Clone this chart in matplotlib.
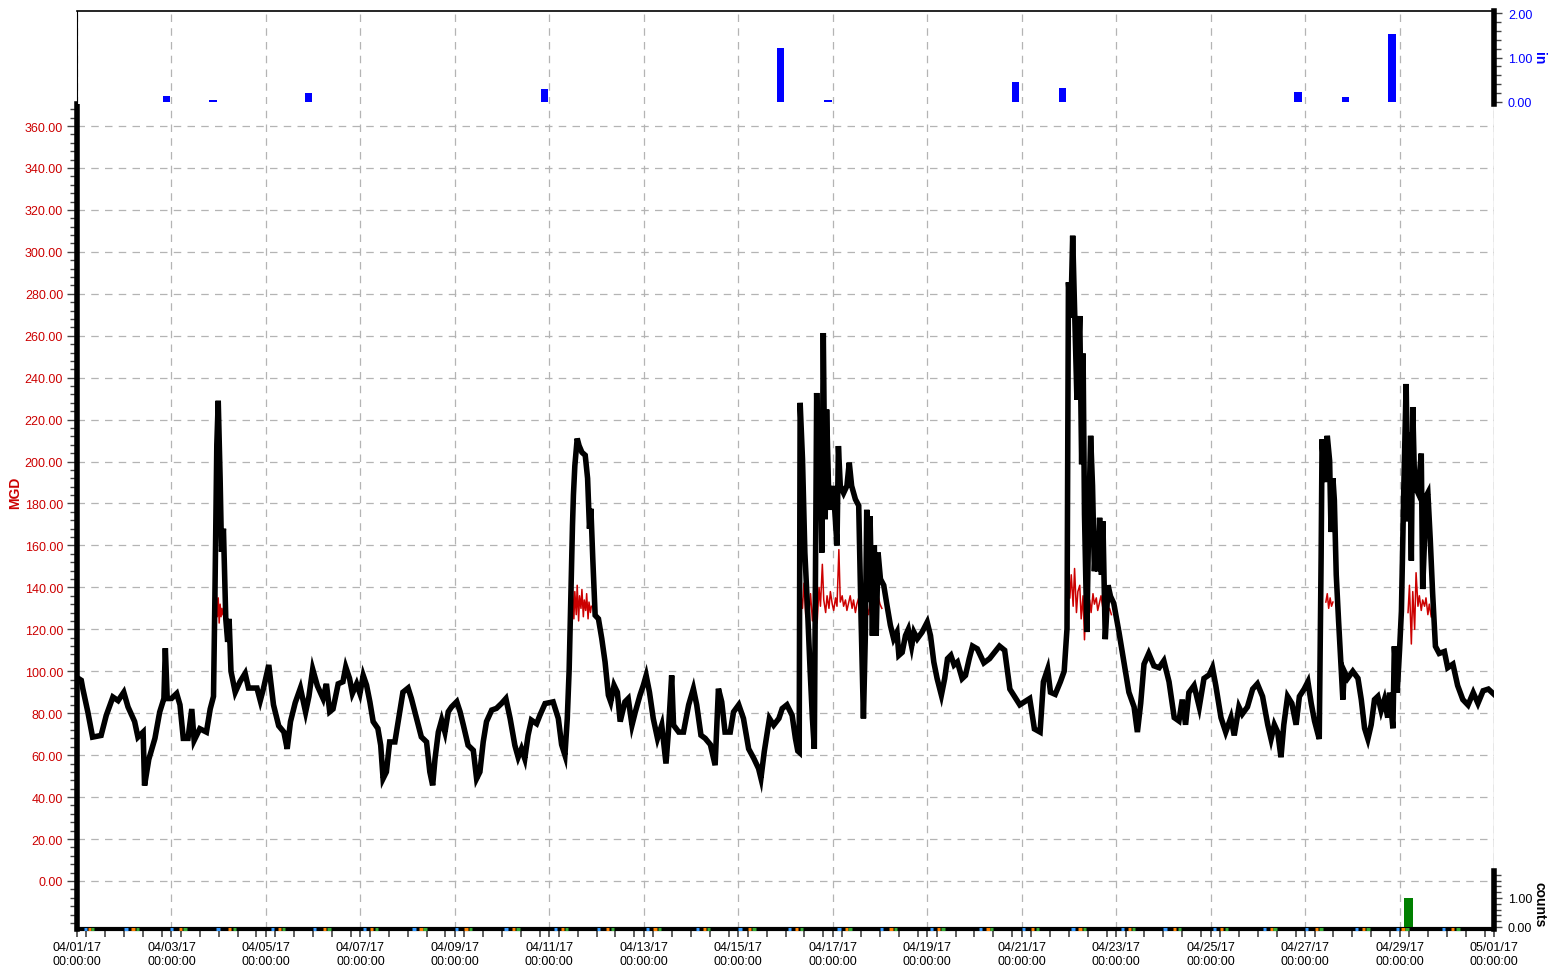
import numpy as np
import pandas as pd
import matplotlib
import matplotlib.pyplot as plt
import matplotlib.dates as mdates
from matplotlib.ticker import MultipleLocator, FormatStrFormatter

matplotlib.use('Agg')

plt.rcParams['font.family'] = ['Liberation Sans', 'DejaVu Sans']
plt.rcParams['font.size'] = 9

START = pd.Timestamp('2017-04-01')

# flow in MGD, x = days since 04/01/17 00:00
flow_days = [
    0.0, 0.09, 0.12, 0.23, 0.33, 0.51, 0.62, 0.76, 0.87, 0.99,
    1.08, 1.22, 1.29, 1.40, 1.43, 1.52, 1.65, 1.75, 1.84, 1.87,
    1.91, 2.0, 2.11, 2.18, 2.25, 2.35, 2.43, 2.48, 2.60, 2.74,
    2.82, 2.89, 2.92, 2.96, 2.99, 3.03, 3.06, 3.10, 3.15, 3.19,
    3.22, 3.26, 3.35, 3.45, 3.56, 3.63, 3.81, 3.88, 3.95, 4.06,
    4.16, 4.27, 4.38, 4.45, 4.52, 4.62, 4.73, 4.84, 4.91, 4.99,
    5.09, 5.21, 5.28, 5.35, 5.42, 5.53, 5.63, 5.69, 5.77, 5.83,
    5.92, 5.99, 6.06, 6.13, 6.20, 6.27, 6.37, 6.43, 6.48, 6.55,
    6.62, 6.73, 6.80, 6.90, 7.01, 7.08, 7.19, 7.29, 7.40, 7.47,
    7.53, 7.58, 7.65, 7.72, 7.79, 7.86, 7.93, 8.04, 8.11, 8.18,
    8.28, 8.39, 8.46, 8.53, 8.60, 8.67, 8.78, 8.88, 8.99, 9.08,
    9.17, 9.27, 9.34, 9.41, 9.48, 9.55, 9.62, 9.73, 9.80, 9.91,
    10.08, 10.19, 10.26, 10.33, 10.38, 10.42, 10.45, 10.49, 10.51, 10.54,
    10.59, 10.63, 10.69, 10.76, 10.81, 10.85, 10.88, 10.92, 10.97, 11.04,
    11.11, 11.18, 11.25, 11.30, 11.37, 11.44, 11.50, 11.60, 11.67, 11.75,
    11.82, 11.92, 11.99, 12.05, 12.12, 12.20, 12.29, 12.38, 12.47, 12.52,
    12.59, 12.63, 12.74, 12.84, 12.95, 13.05, 13.12, 13.21, 13.30, 13.41,
    13.51, 13.58, 13.65, 13.72, 13.83, 13.90, 14.01, 14.11, 14.22, 14.33,
    14.43, 14.48, 14.55, 14.66, 14.75, 14.86, 14.93, 15.03, 15.14, 15.21,
    15.26, 15.29, 15.31, 15.36, 15.41, 15.46, 15.52, 15.57, 15.61, 15.66,
    15.70, 15.73, 15.77, 15.80, 15.84, 15.87, 15.91, 15.96, 16.01, 16.09,
    16.12, 16.16, 16.23, 16.30, 16.35, 16.40, 16.48, 16.55, 16.60, 16.65,
    16.69, 16.72, 16.76, 16.79, 16.84, 16.88, 16.92, 16.96, 17.01, 17.08,
    17.15, 17.22, 17.29, 17.36, 17.40, 17.47, 17.54, 17.60, 17.67, 17.72,
    17.79, 17.89, 18.00, 18.07, 18.14, 18.21, 18.30, 18.37, 18.43, 18.50,
    18.57, 18.64, 18.74, 18.81, 18.89, 18.96, 19.06, 19.20, 19.32, 19.53,
    19.64, 19.75, 19.96, 20.17, 20.27, 20.39, 20.46, 20.55, 20.61, 20.71,
    20.82, 20.90, 20.96, 20.99, 21.04, 21.08, 21.12, 21.17, 21.23, 21.27,
    21.30, 21.33, 21.38, 21.42, 21.46, 21.50, 21.54, 21.58, 21.61, 21.65,
    21.69, 21.72, 21.77, 21.83, 21.88, 21.95, 22.06, 22.16, 22.27, 22.38,
    22.45, 22.52, 22.59, 22.69, 22.80, 22.91, 23.01, 23.12, 23.23, 23.33,
    23.40, 23.47, 23.54, 23.65, 23.76, 23.86, 23.97, 24.04, 24.11, 24.22,
    24.32, 24.43, 24.50, 24.60, 24.67, 24.78, 24.89, 24.99, 25.10, 25.21,
    25.28, 25.35, 25.42, 25.49, 25.55, 25.63, 25.72, 25.81, 25.88, 25.98,
    26.06, 26.13, 26.20, 26.30, 26.34, 26.36, 26.41, 26.47, 26.52, 26.55,
    26.59, 26.62, 26.66, 26.71, 26.76, 26.80, 26.83, 26.90, 27.01, 27.12,
    27.19, 27.26, 27.33, 27.40, 27.47, 27.54, 27.61, 27.68, 27.75, 27.79,
    27.86, 27.89, 27.95, 28.00, 28.04, 28.09, 28.14, 28.18, 28.21, 28.25,
    28.28, 28.32, 28.39, 28.46, 28.49, 28.53, 28.56, 28.60, 28.65, 28.70,
    28.76, 28.84, 28.95, 29.02, 29.13, 29.23, 29.34, 29.45, 29.56, 29.66,
    29.77, 29.88, 30.0,
]
flow_mgd = [
    97, 95.7, 92, 80.5, 68.6, 69.4, 79, 87.7, 86, 90,
    83, 76, 68.6, 71, 45.5, 58, 68, 80.5, 87, 111,
    87, 87, 89.4, 84, 68, 68, 82, 67, 72.6, 71,
    82, 88, 136, 208, 229, 192, 157, 168, 125, 114,
    125, 100, 90, 95, 99, 92, 92, 86, 92, 103,
    84, 74, 71, 63, 76, 85, 92, 80.5, 88, 101,
    93, 87, 94, 80.7, 82, 94, 95, 102, 96.6, 89.4,
    94, 89.4, 98, 93.4, 85.5, 76, 72.7, 64.7, 48.8, 52,
    66.3, 66.3, 76, 90, 92, 87, 77.5, 68.7, 66.3, 52,
    45.6, 58.3, 71, 76.7, 71, 80.7, 83, 85.5, 80.7, 74.3,
    64.7, 62.3, 48.8, 52, 66.3, 76, 81.5, 82.3, 84.7, 87,
    77.5, 64.7, 59, 63, 58.3, 69.5, 76.7, 75, 79, 84.6,
    85.4, 77.5, 65, 60, 77.5, 101, 131, 169.5, 184, 198,
    211, 207.6, 204.4, 203, 192, 168, 177.5, 153.6, 126.7, 125,
    115.6, 104.4, 88.6, 85.4, 93.3, 90, 76, 85.4, 87, 74.3,
    80.6, 88.6, 93.3, 98, 90, 77.5, 68, 74.3, 56, 71,
    98, 74.3, 71, 71, 84, 91.7, 84, 69.5, 68, 65,
    55.2, 91.7, 85.4, 71, 71, 80.6, 84, 77.5, 63, 58.4,
    53.6, 49, 61.6, 77.5, 74.3, 77.5, 82.2, 84, 79, 68,
    62, 61.4, 228, 201, 156.6, 133, 101, 77.4, 63, 232.7,
    180.4, 220, 156.6, 261.3, 172.5, 224.8, 188.4, 177, 188.4, 160,
    207.4, 188.4, 185, 188.4, 199.5, 188.4, 182, 179, 125, 77.5,
    117, 177, 133, 174, 117, 160, 117, 156.6, 144, 141,
    131.3, 122, 115.5, 118.6, 107.6, 109, 117, 120, 112, 118.6,
    115.5, 118.6, 123.4, 117, 104.4, 96.5, 88.6, 96.5, 106, 107.6,
    103, 104.4, 96.5, 98, 106, 112, 110.7, 104, 106, 112,
    110, 91.5, 84, 87, 72.5, 71, 95, 101, 90, 89,
    95, 100, 120.4, 285.5, 268.5, 307.7, 273.6, 229.4, 269.4, 198.7,
    251.5, 175, 118.7, 171.6, 212.3, 188.5, 147.7, 166.4, 147.7, 173.2,
    146, 171.5, 115.3, 141, 135.8, 132.4, 118.7, 105, 90, 83,
    71, 84.7, 103.4, 108.5, 102.6, 101.7, 105, 95, 77.9, 76.3,
    86.5, 74.5, 89.8, 93.2, 83, 96.6, 98.3, 101.7, 93.2, 77.9,
    71, 77.9, 69.4, 83, 79.6, 83, 91.5, 94, 88, 74.5,
    67.7, 74.5, 71, 59, 74.5, 88, 84.7, 74.5, 88, 91.5,
    95, 84.7, 76.3, 67.7, 154.5, 210.6, 190.2, 212.3, 200.4, 166.4,
    192, 181.7, 146, 123.8, 103.4, 86.5, 100, 96.6, 100, 96.6,
    86.5, 72.8, 67.7, 74.5, 86.5, 88, 81.3, 86.5, 77.9, 89.8,
    72.8, 111.9, 89.8, 110, 128.7, 186.8, 237, 171.5, 214, 152.8,
    226, 188.5, 185.1, 203.8, 139.2, 163, 183.4, 185.1, 163, 137.5,
    111.9, 108.5, 109.4, 101.7, 103.4, 93.2, 86.5, 83.9, 89.8, 84.7,
    90.7, 91.5, 89,
]

# second meter (red), only shows through at the storm peaks; NaN breaks the segments
meter_days = [
    2.93, 2.95, 2.97, 2.99, 3.01, 3.03, 3.05, 3.07, 3.09, np.nan,
    10.47, 10.49, 10.52, 10.54, 10.57, 10.59, 10.62, 10.64, 10.67, 10.69,
    10.72, 10.74, 10.77, 10.79, 10.82, 10.84, 10.87, 10.89, np.nan,
    15.32, 15.36, 15.39, 15.43, 15.46, 15.50, 15.53, 15.57, 15.60, 15.64,
    15.67, 15.71, 15.74, 15.78, 15.81, 15.85, 15.88, 15.92, 15.95, 15.99,
    16.02, 16.06, 16.09, 16.13, 16.16, 16.20, 16.23, 16.27, 16.30, 16.34,
    16.37, 16.41, 16.44, 16.48, 16.51, 16.55, 16.58, 16.62, 16.65, 16.69,
    16.72, 16.76, 16.79, 16.83, 16.86, 16.90, 16.93, 16.97, 17.00, 17.04, np.nan,
    21.02, 21.05, 21.09, 21.12, 21.16, 21.19, 21.23, 21.26, 21.30, 21.33,
    21.37, 21.40, 21.44, 21.47, 21.51, 21.54, 21.58, 21.61, 21.65, 21.68,
    21.72, 21.75, 21.79, 21.82, 21.86, 21.90, np.nan,
    26.44, 26.47, 26.50, 26.53, 26.56, 26.59, np.nan,
    28.18, 28.21, 28.25, 28.28, 28.32, 28.35, 28.39, 28.42, 28.46, 28.49,
    28.53, 28.56, 28.60, 28.63, 28.67,
]
meter_mgd = [
    128, 137, 126, 135, 123, 132, 126, 130, 127, np.nan,
    128, 140, 125, 138, 127, 141, 124, 136, 130, 139,
    126, 134, 129, 137, 125, 133, 128, 131, np.nan,
    138, 130, 142, 126, 135, 128, 137, 124, 133, 129,
    123, 140, 131, 151, 134, 128, 136, 130, 138, 132,
    129, 135, 131, 158, 133, 136, 131, 134, 129, 133,
    136, 130, 134, 128, 132, 135, 129, 133, 130, 126,
    131, 127, 133, 129, 124, 131, 128, 135, 132, 130, np.nan,
    135, 146, 131, 149, 128, 138, 141, 125, 136, 115,
    139, 130, 134, 128, 137, 132, 135, 129, 133, 136,
    130, 134, 131, 128, 130, 127, np.nan,
    133, 137, 130, 135, 131, 133, np.nan,
    128, 141, 113, 138, 120, 147, 131, 136, 129, 134,
    131, 135, 127, 132, 126,
]

# rainfall (in)
rain_days = [1.89, 2.88, 4.90, 9.90, 14.90, 15.90, 19.87, 20.87, 25.85, 26.85, 27.84]
rain_in = [0.13, 0.04, 0.20, 0.29, 1.21, 0.04, 0.45, 0.31, 0.22, 0.11, 1.53]

# event counts
count_days = [28.18]
count_vals = [1.0]

# small status marks along the bottom edge
blue_marks = [0.15, 1.0, 1.97, 2.95, 4.1, 5.0, 6.05, 7.1, 8.0, 9.05, 10.1, 11.0, 12.05, 13.1,
              14.0, 15.05, 16.1, 17.0, 18.05, 19.1, 20.0, 21.05, 22.1, 23.0, 24.05, 25.1, 26.0,
              27.05, 27.92, 28.9]
orange_marks = [0.23, 1.15, 2.15, 3.2, 4.25, 5.2, 6.2, 7.25, 8.2, 9.2, 10.25, 11.2, 12.2, 13.25,
                14.2, 15.2, 16.25, 17.2, 18.2, 19.25, 20.2, 21.2, 22.25, 23.2, 24.2, 25.25, 26.2,
                27.2, 28.04, 29.08]
green_marks = [0.3, 1.24, 2.25, 3.3, 4.33, 5.3, 6.3, 7.33, 8.3, 9.3, 10.33, 11.3, 12.3, 13.33,
               14.3, 15.3, 16.33, 17.3, 18.3, 19.33, 20.3, 21.3, 22.33, 23.3, 24.3, 25.33, 26.3,
               27.3, 28.12, 29.2]


def to_time(days):
    return START + pd.to_timedelta(np.asarray(days, dtype=float), unit='D')


W, H = 1549, 970
fig = plt.figure(figsize=(W / 100, H / 100), dpi=100)
x0, x1 = 77, 1494


def box(left, top, right, bottom):
    return [left / W, 1 - bottom / H, (right - left) / W, (bottom - top) / H]


GRID = dict(color='#b4b4b4', linestyle=(0, (6, 5)), linewidth=0.9)
RED = '#cc0000'

ax = fig.add_axes(box(x0, 105, x1, 930))
ax_rain = fig.add_axes(box(x0, 12, x1, 105), sharex=ax)
ax_cnt = fig.add_axes(box(x0, 872, x1, 930), sharex=ax)
ax_cnt.patch.set_visible(False)

t0, t1 = to_time([0, 30])
ax.set_xlim(t0, t1)

# main flow
ax.plot(to_time(meter_days), meter_mgd, color=RED, lw=1.1, zorder=3)
ax.plot(to_time(flow_days), flow_mgd, color='black', lw=4.0, zorder=4,
        solid_joinstyle='miter')
ax.set_ylim(-22.9, 370.5)
ax.yaxis.set_minor_locator(MultipleLocator(4))
ax.yaxis.set_major_formatter(FormatStrFormatter('%.2f'))
ax.set_yticks(np.arange(0, 361, 20))
ax.tick_params(axis='y', colors='#444444', labelcolor=RED, length=7, width=1, pad=3)
ax.tick_params(axis='y', which='minor', colors='#444444', length=5, width=1)
ax.grid(True, which='major', **GRID)
ax.set_axisbelow(True)

ax.xaxis.set_major_locator(mdates.DayLocator(bymonthday=list(range(1, 32, 2))))
ax.xaxis.set_major_formatter(mdates.DateFormatter('%m/%d/%y\n%H:%M:%S'))
ax.xaxis.set_minor_locator(MultipleLocator(0.4))
ax.tick_params(axis='x', length=6, width=1.2, pad=3, colors='#444444', labelcolor='black')
ax.tick_params(axis='x', which='minor', length=6, width=1.2, colors='#444444')

for side in ['top', 'right']:
    ax.spines[side].set_visible(False)
ax.spines['left'].set_linewidth(4)
ax.spines['bottom'].set_linewidth(3)
ax.axvline(t1, color='black', lw=0.8, zorder=1)

# rainfall panel on top
ax_rain.bar(to_time(rain_days), rain_in, width=0.15, color='#0000ff', zorder=3)
ax_rain.set_ylim(-0.045, 2.045)
ax_rain.set_yticks([0, 1, 2])
ax_rain.yaxis.set_minor_locator(MultipleLocator(0.2))
ax_rain.yaxis.set_major_formatter(FormatStrFormatter('%.2f'))
ax_rain.yaxis.tick_right()
ax_rain.tick_params(axis='y', which='both', colors='#444444', labelcolor='#0000ff',
                    length=6, width=1, pad=4)
ax_rain.tick_params(axis='y', which='minor', length=5)
ax_rain.tick_params(axis='x', which='both', bottom=False, labelbottom=False)
ax_rain.grid(True, axis='x', which='major', **GRID)
ax_rain.set_axisbelow(True)
ax_rain.spines['bottom'].set_visible(False)
ax_rain.spines['left'].set_linewidth(0.8)
ax_rain.spines['top'].set_linewidth(1.2)
ax_rain.spines['right'].set_linewidth(4)

# counts panel at bottom right
ax_cnt.bar(to_time(count_days), count_vals, width=0.19, color='#008000', zorder=3)
for marks, col in [(blue_marks, '#3399ff'), (orange_marks, '#ff8000'), (green_marks, '#33aa33')]:
    ax_cnt.hlines([-0.07] * len(marks), to_time(marks), to_time(np.array(marks) + 0.07),
                  color=col, lw=2.2, zorder=5, clip_on=False)
ax_cnt.set_ylim(-0.07, 1.93)
ax_cnt.set_yticks([0, 1])
ax_cnt.yaxis.set_minor_locator(MultipleLocator(0.2))
ax_cnt.yaxis.set_major_formatter(FormatStrFormatter('%.2f'))
ax_cnt.yaxis.tick_right()
ax_cnt.tick_params(axis='y', which='both', colors='#444444', labelcolor='black',
                   length=6, width=1, pad=4)
ax_cnt.tick_params(axis='y', which='minor', length=5)
ax_cnt.tick_params(axis='x', which='both', bottom=False, labelbottom=False)
for side in ['top', 'left', 'bottom']:
    ax_cnt.spines[side].set_visible(False)
ax_cnt.spines['right'].set_linewidth(4)

# axis titles, placed in figure pixels
fig.text(15 / W, 1 - 493 / H, 'MGD', color=RED, fontweight='bold', fontsize=10,
         rotation=90, ha='center', va='center')
fig.text(1539 / W, 1 - 58 / H, 'in', color='#0000ff', fontweight='bold', fontsize=10,
         rotation=-90, ha='center', va='center')
fig.text(1539 / W, 1 - 905 / H, 'counts', color='black', fontweight='bold', fontsize=10,
         rotation=-90, ha='center', va='center')

fig.savefig('out.png', dpi=100)
